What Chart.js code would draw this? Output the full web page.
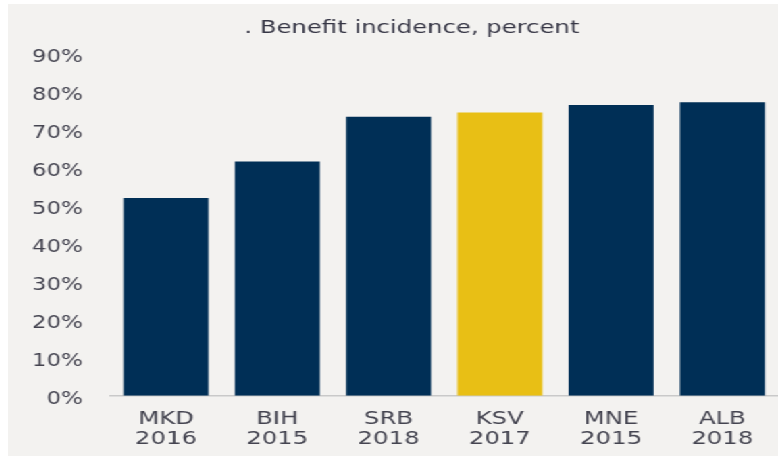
<!DOCTYPE html>
<html>
<head>
<meta charset="utf-8">
<script src="https://cdn.jsdelivr.net/npm/chart.js@4"></script>
<style>
  html, body { margin: 0; padding: 0; background: #ffffff; width: 778px; height: 456px; overflow: hidden; }
  #wrap { position: absolute; left: 8px; top: 4px; width: 570px; height: 452px;
          background: #f3f2f0; transform: scaleX(1.3509); transform-origin: 0 0; }
</style>
</head>
<body>
<div id="wrap"><canvas id="c" width="570" height="452"></canvas></div>
<script>
const TITLE = ". Benefit incidence, percent";
const countries = ["MKD", "BIH", "SRB", "KSV", "MNE", "ALB"];
const years = ["2016", "2015", "2018", "2017", "2015", "2018"];
const values = [52.1, 61.7, 73.5, 74.6, 76.6, 77.3];
const highlight = "KSV";
const yTicks = [0, 10, 20, 30, 40, 50, 60, 70, 80, 90];

const NAVY = "#002f56";
const GOLD = "#e8bf15";
const labels = countries.map((c, i) => [c, years[i]]);
const colors = countries.map(c => c === highlight ? GOLD : NAVY);

const titlePlugin = {
  id: "titleText",
  afterDraw(chart) {
    const ctx = chart.ctx;
    ctx.save();
    ctx.font = "18px 'DejaVu Sans'";
    ctx.fillStyle = "#363645";
    ctx.textAlign = "center";
    ctx.textBaseline = "middle";
    ctx.fillText(TITLE, 299, 24);
    ctx.restore();
  }
};

new Chart(document.getElementById("c"), {
  type: "bar",
  data: {
    labels: labels,
    datasets: [{
      data: values,
      backgroundColor: colors,
      borderWidth: 0,
      barPercentage: 0.764,
      categoryPercentage: 1.0
    }]
  },
  options: {
    responsive: false,
    animation: false,
    devicePixelRatio: 1,
    layout: { padding: { top: 50, left: 0, right: 0, bottom: 0 } },
    plugins: { legend: { display: false }, tooltip: { enabled: false }, title: { display: false } },
    scales: {
      x: {
        grid: { display: false, drawTicks: false },
        border: { display: true, color: "#c9c9c9", width: 1.5 },
        ticks: {
          color: "#444450",
          font: { family: "'DejaVu Sans'", size: 18, lineHeight: 1.15 },
          padding: 13,
          maxRotation: 0,
          autoSkip: false
        },
        afterFit(scale) { scale.height = 60.3; }
      },
      y: {
        min: 0,
        max: 90,
        afterBuildTicks(scale) { scale.ticks = yTicks.map(v => ({ value: v })); },
        grid: { display: false, drawTicks: false },
        border: { display: false },
        ticks: {
          color: "#444450",
          font: { family: "'DejaVu Sans'", size: 17 },
          padding: 20.3,
          labelOffset: 4,
          callback: v => v + "%"
        },
        afterFit(scale) { scale.width = 75.8; }
      }
    }
  },
  plugins: [titlePlugin]
});
</script>
</body>
</html>
